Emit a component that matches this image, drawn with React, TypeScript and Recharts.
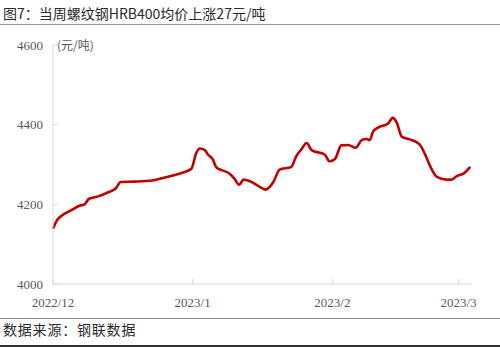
import { LineChart, Line, XAxis, YAxis } from "recharts";

// days counted from 2022/12/1
const days = [
  0, 1, 2, 4, 6, 7, 8, 10, 12, 14, 15, 18, 22, 25, 28, 30.7, 31.8, 32.6, 33.7,
  34.4, 35.4, 36.3, 37.4, 39.2, 40.3, 41.3, 42.3, 43.7, 45.9, 47.2, 48.2, 49,
  50.3, 52.9, 54, 55.2, 56.3, 57.4, 60.3, 61.4, 62.6, 64, 65.5, 67.2, 68.5,
  69.6, 70.3, 71.1, 72.6, 74.4, 75.4, 76.3, 77.4, 79.2, 81.4, 82.6, 83.7, 85.2,
  87.4, 88.5, 89.6, 91.1, 92.6,
];
const prices = [
  4139, 4162, 4172, 4185, 4197, 4200, 4214, 4220, 4229, 4241, 4256, 4257, 4260,
  4268, 4277, 4289, 4329, 4340, 4336, 4325, 4314, 4292, 4286, 4277, 4264, 4249,
  4262, 4258, 4244, 4237, 4245, 4258, 4287, 4294, 4321, 4339, 4354, 4336, 4325,
  4308, 4314, 4348, 4349, 4342, 4361, 4364, 4361, 4384, 4395, 4403, 4417, 4405,
  4370, 4363, 4350, 4325, 4296, 4269, 4262, 4262, 4271, 4277, 4294,
];
const monthTicks = [0, 31, 62, 90];
const monthLabels = ["2022/12", "2023/1", "2023/2", "2023/3"];
const yTicks = [4000, 4200, 4400, 4600];

const data = days.map((d, i) => ({ day: d, price: prices[i] }));

const cjk = "'Noto Sans CJK SC', 'Noto Sans', sans-serif";
const serif = "'Liberation Serif', 'DejaVu Serif', serif";

export default function App() {
  return (
    <div
      style={{
        position: "absolute",
        left: 0,
        top: 0,
        width: 500,
        height: 347,
        background: "#fff",
        overflow: "hidden",
        fontFamily: serif,
      }}
    >
      <div
        style={{
          position: "absolute",
          left: 3,
          top: 3,
          fontFamily: cjk,
          fontSize: 14,
          lineHeight: "20px",
          color: "#2b2b2b",
          whiteSpace: "nowrap",
        }}
      >
        图7：当周螺纹钢HRB400均价上涨27元/吨
      </div>
      <div style={{ position: "absolute", left: 0, top: 24, width: 500, height: 1, background: "#999" }} />

      <LineChart
        width={500}
        height={347}
        data={data}
        margin={{ top: 45, right: 28, left: 0, bottom: 33 }}
        style={{ fontFamily: serif }}
      >
        <XAxis
          dataKey="day"
          type="number"
          domain={[0, 93]}
          ticks={monthTicks}
          tickFormatter={(v: number) => monthLabels[monthTicks.indexOf(v)] ?? ""}
          height={30}
          tickSize={-5}
          tickMargin={19}
          axisLine={{ stroke: "#d9d9d9" }}
          tickLine={{ stroke: "#d9d9d9" }}
          tick={{ fill: "#595959", fontSize: 13, fontFamily: serif }}
          interval={0}
        />
        <YAxis
          type="number"
          domain={[4000, 4600]}
          ticks={yTicks}
          width={53}
          tickSize={-5}
          tickMargin={15}
          axisLine={{ stroke: "#d9d9d9" }}
          tickLine={{ stroke: "#d9d9d9" }}
          tick={{ fill: "#595959", fontSize: 13, fontFamily: serif }}
          interval={0}
        />
        <Line
          type="monotone"
          dataKey="price"
          stroke="#c00000"
          strokeWidth={2.6}
          dot={false}
          isAnimationActive={false}
        />
      </LineChart>

      <div
        style={{
          position: "absolute",
          left: 57,
          top: 37,
          fontFamily: cjk,
          fontSize: 12,
          lineHeight: "16px",
          color: "#595959",
          whiteSpace: "nowrap",
        }}
      >
        (元/吨)
      </div>

      <div style={{ position: "absolute", left: 0, top: 318, width: 500, height: 1, background: "#888" }} />
      <div
        style={{
          position: "absolute",
          left: 3,
          top: 319,
          fontFamily: cjk,
          fontSize: 14,
          lineHeight: "20px",
          letterSpacing: 0.8,
          color: "#2b2b2b",
          whiteSpace: "nowrap",
        }}
      >
        数据来源：钢联数据
      </div>
      <div style={{ position: "absolute", left: 0, top: 345, width: 500, height: 2, background: "#333" }} />
    </div>
  );
}
